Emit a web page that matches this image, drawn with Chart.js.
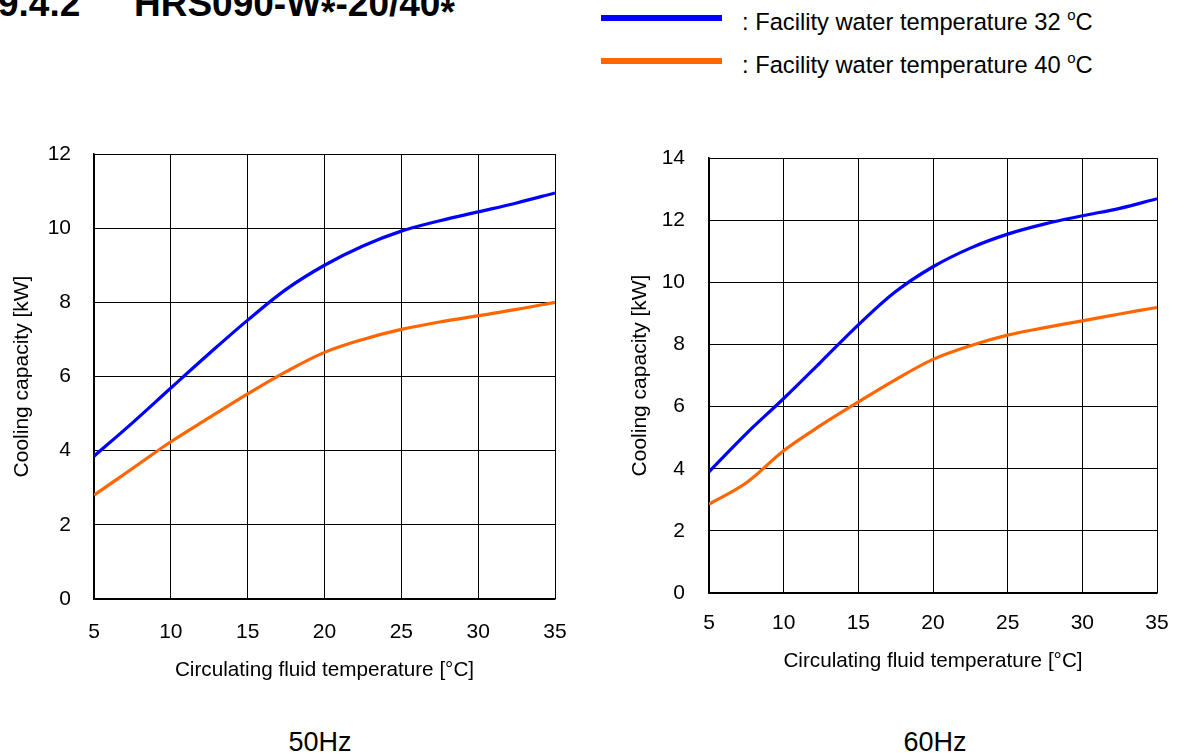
<!DOCTYPE html>
<html>
<head>
<meta charset="utf-8">
<script src="https://cdn.jsdelivr.net/npm/chart.js@4.4.0/dist/chart.umd.min.js"></script>
<style>
  html, body { margin: 0; padding: 0; background: #fff; }
  body { width: 1178px; height: 755px; position: relative; overflow: hidden; font-family: "Liberation Sans", Arial, sans-serif; color: #000; }
  .abs { position: absolute; white-space: nowrap; }
  .title { font-weight: bold; font-size: 37px; line-height: 37px; }
  .title .ast { position: relative; top: 9px; }
  .leg-line { position: absolute; height: 6px; }
  .leg-text { font-size: 23.7px; line-height: 24px; }
  .leg-text sup { font-size: 15px; vertical-align: 10px; line-height: 0; }
  .freq { font-size: 27px; line-height: 27px; }
  canvas { position: absolute; }
</style>
</head>
<body>
<div class="abs title" id="t1" style="left:-2px; top:-15px;"></div>
<div class="abs title" id="t2" style="left:134px; top:-15px;"></div>

<div class="leg-line" style="left:601px; top:15px; width:121px; background:#0000ff;"></div>
<div class="abs leg-text" id="leg1" style="left:742px; top:10px;"></div>
<div class="leg-line" style="left:601px; top:58px; width:121px; background:#ff6600;"></div>
<div class="abs leg-text" id="leg2" style="left:742px; top:53px;"></div>

<canvas id="c50" width="590" height="700" style="left:0; top:0;"></canvas>
<canvas id="c60" width="588" height="700" style="left:590px; top:0;"></canvas>

<div class="abs freq" id="f50" style="left:320px; top:729px; transform:translateX(-50%);"></div>
<div class="abs freq" id="f60" style="left:935px; top:729px; transform:translateX(-50%);"></div>

<script>
// ---- data ----
const temps = [5, 7.5, 10, 12.5, 15, 17.5, 20, 22.5, 25, 27.5, 30, 32.5, 35];
const cap50_32 = [3.85, 4.75, 5.69, 6.62, 7.52, 8.35, 9.0, 9.52, 9.92, 10.2, 10.44, 10.68, 10.95];
const cap50_40 = [2.80, 3.52, 4.24, 4.89, 5.53, 6.13, 6.65, 7.0, 7.27, 7.47, 7.64, 7.81, 8.0];
const cap60_32 = [3.90, 5.13, 6.26, 7.44, 8.63, 9.70, 10.5, 11.1, 11.55, 11.88, 12.14, 12.38, 12.69];
const cap60_40 = [2.86, 3.55, 4.58, 5.40, 6.15, 6.87, 7.52, 7.96, 8.30, 8.54, 8.76, 8.98, 9.19];
const seriesLabels = ["Facility water temperature 32", "Facility water temperature 40"];
const xTicks = [5, 10, 15, 20, 25, 30, 35];
const yTicks50 = [0, 2, 4, 6, 8, 10, 12];
const yTicks60 = [0, 2, 4, 6, 8, 10, 12, 14];
const xTitle = "Circulating fluid temperature [\u00B0C]";
const yTitle = "Cooling capacity [kW]";
const freqLabels = ["50Hz", "60Hz"];
const sectionNo = "9.4.2";
const modelName = "HRS090-W*-20/40*";

document.getElementById('t1').textContent = sectionNo;
document.getElementById('t2').innerHTML = modelName.replace(/\*/g, '<span class="ast">*</span>');
document.getElementById('leg1').innerHTML = ": " + seriesLabels[0] + " <sup>o</sup>C";
document.getElementById('leg2').innerHTML = ": " + seriesLabels[1] + " <sup>o</sup>C";
document.getElementById('f50').textContent = freqLabels[0];
document.getElementById('f60').textContent = freqLabels[1];

const FONT = "'Liberation Sans', Arial, sans-serif";
const toPts = (ys) => temps.map((t, i) => ({x: t, y: ys[i]}));

function makeChart(id, a, b, yTicks, cfg) {
  new Chart(document.getElementById(id), {
    type: 'line',
    data: {
      datasets: [
        { label: seriesLabels[0], data: toPts(a), borderColor: '#0000ff', borderWidth: 3.2, pointRadius: 0, tension: 0.35, fill: false },
        { label: seriesLabels[1], data: toPts(b), borderColor: '#ff6600', borderWidth: 3.2, pointRadius: 0, tension: 0.35, fill: false }
      ]
    },
    options: {
      responsive: false,
      animation: false,
      events: [],
      layout: { padding: { left: 0, top: cfg.top, right: cfg.right, bottom: cfg.bottom } },
      plugins: { legend: { display: false }, tooltip: { enabled: false } },
      scales: {
        x: {
          type: 'linear', min: xTicks[0], max: xTicks[xTicks.length - 1],
          afterBuildTicks: (s) => { s.ticks = xTicks.map(v => ({value: v})); },
          afterFit: (s) => { s.height = cfg.xH; s.paddingLeft = 0; s.paddingRight = 0; },
          ticks: { color: '#000', font: { family: FONT, size: 21 }, padding: cfg.xPad, maxRotation: 0 },
          grid: { color: '#000', lineWidth: 1, drawTicks: false },
          border: { color: '#000', width: 1.5 },
          title: { display: true, text: xTitle, color: '#000', font: { family: FONT, size: 20.7 }, padding: { top: 0, bottom: cfg.xTitlePad } }
        },
        y: {
          type: 'linear', min: yTicks[0], max: yTicks[yTicks.length - 1],
          afterBuildTicks: (s) => { s.ticks = yTicks.map(v => ({value: v})); },
          afterFit: (s) => { s.width = cfg.yW; s.paddingTop = 0; s.paddingBottom = 0; },
          ticks: { color: '#000', font: { family: FONT, size: 21 }, padding: cfg.yPad },
          grid: { color: '#000', lineWidth: 1, drawTicks: false },
          border: { color: '#000', width: 1.5 },
          title: { display: true, text: yTitle, color: '#000', font: { family: FONT, size: 21 }, padding: { top: cfg.yTitlePad, bottom: 0 } }
        }
      }
    }
  });
}

makeChart('c50', cap50_32, cap50_40, yTicks50, { top: 154, right: 35, bottom: 11, xH: 90, xPad: 21, xTitlePad: 6, yW: 94, yPad: 23, yTitlePad: 10 });
makeChart('c60', cap60_32, cap60_40, yTicks60, { top: 158, right: 21, bottom: 17, xH: 90, xPad: 18, xTitlePad: 9, yW: 119, yPad: 24, yTitlePad: 38 });
</script>
</body>
</html>
